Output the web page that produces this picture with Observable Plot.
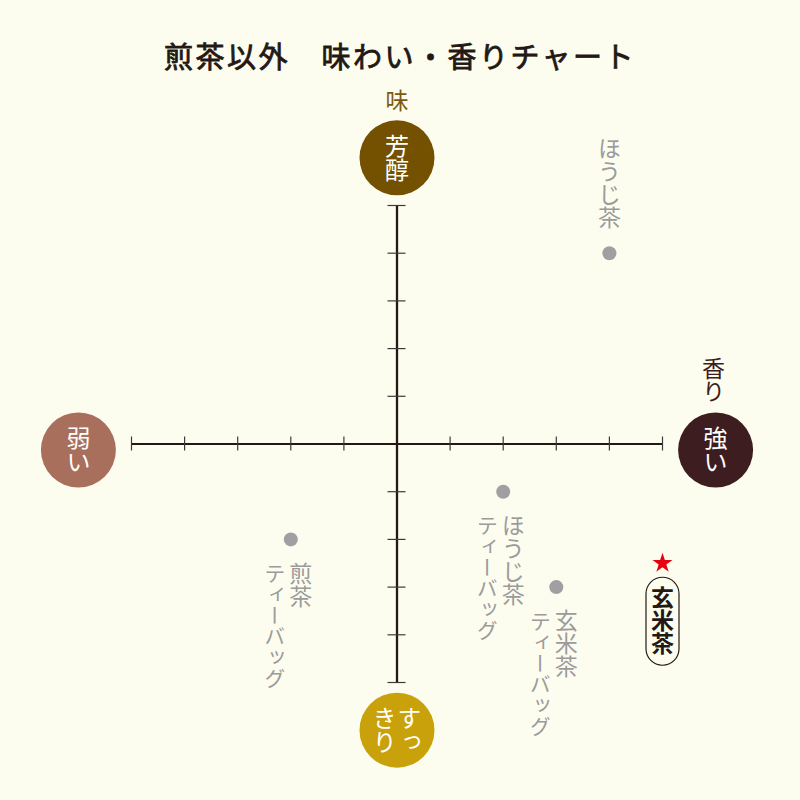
<!DOCTYPE html>
<html>
<head>
<meta charset="utf-8">
<script src="https://cdn.jsdelivr.net/npm/d3@7"></script>
<script src="https://cdn.jsdelivr.net/npm/@observablehq/plot@0.6"></script>
<style>
  html, body { margin: 0; padding: 0; background: #fdfdef; }
  #wrap { width: 800px; height: 800px; background: #fdfdef; overflow: hidden; }
  #title {
    height: 110px; box-sizing: border-box; padding-top: 36px;
    text-align: center; font-family: "Noto Sans CJK JP", sans-serif;
    font-weight: 400; font-size: 29px; line-height: 38px; letter-spacing: 2.5px;
    color: #231815; -webkit-text-stroke: 0.8px #231815;
  }
  #chart svg { display: block; overflow: visible; }
</style>
</head>
<body>
<div id="wrap">
  <div id="title">煎茶以外　味わい・香りチャート</div>
  <div id="chart"></div>
</div>
<script>
// ---- data ----
const teaNames = ["ほうじ茶", "ほうじ茶ティーバッグ", "煎茶ティーバッグ", "玄米茶ティーバッグ"];
const teaAroma = [4, 2, -2, 3];        // 香り (x): 弱い ← → 強い
const teaTaste = [4, -1, -2, -3];      // 味 (y): すっきり ↓ ↑ 芳醇
const teaLabelLines = [["ほうじ茶"], ["ほうじ茶", "ティーバッグ"], ["煎茶", "ティーバッグ"], ["玄米茶", "ティーバッグ"]];

const featuredName = "玄米茶";
const featuredAroma = 5;
const featuredTaste = -2.5;

const tickValues = [-5, -4, -3, -2, -1, 1, 2, 3, 4, 5];

const poleNames = ["芳醇", "すっきり", "弱い", "強い"];
const poleAroma = [0, 0, -6, 6];
const poleTaste = [6, -6, 0, 0];
const poleLines = [["芳醇"], ["すっ", "きり"], ["弱い"], ["強い"]];
const poleColors = ["#745100", "#c9a10a", "#a8705c", "#3e1d20"];

const tasteAxisLabel = "味";
const aromaAxisLabel = "香り";

// ---- tables ----
const teas = teaNames.map((name, i) => ({name, aroma: teaAroma[i], taste: teaTaste[i], lines: teaLabelLines[i]}));
const teasAbove = teas.filter(d => d.lines.length === 1);
const teasBelow = teas.filter(d => d.lines.length === 2);
const featured = [{name: featuredName, aroma: featuredAroma, taste: featuredTaste}];
const poles = poleNames.map((name, i) => ({name, aroma: poleAroma[i], taste: poleTaste[i], lines: poleLines[i], color: poleColors[i]}));
const polesV = poles.filter(d => d.aroma === 0);
const polesH = poles.filter(d => d.taste === 0);
const poleTop = poles.filter(d => d.taste > 0);
const poleRight = poles.filter(d => d.aroma > 0);

const FONT = "Noto Sans CJK JP";
const axisColor = "#231815";
const grayText = "#9b9b9b";

// pill outline symbol
const pill = {
  draw(ctx) {
    const w = 16.5, h = 44, r = 16.5;
    ctx.moveTo(-w, -h + r);
    ctx.arc(0, -h + r, r, Math.PI, 0);
    ctx.lineTo(w, h - r);
    ctx.arc(0, h - r, r, 0, Math.PI);
    ctx.closePath();
  }
};

const chart = Plot.plot({
  width: 800,
  height: 690,
  marginLeft: 131, marginRight: 138, marginTop: 95, marginBottom: 118,
  x: {domain: [-5, 5], axis: null},
  y: {domain: [-5, 5], axis: null},
  color: {type: "identity"},
  style: {background: "transparent", overflow: "visible", fontFamily: FONT},
  marks: [
    // axes
    Plot.ruleY([0], {x1: -5, x2: 5, stroke: axisColor, strokeWidth: 2}),
    Plot.ruleX([0], {y1: -5, y2: 5, stroke: axisColor, strokeWidth: 2.3}),
    Plot.ruleX(tickValues, {x: d => d, y1: 0, y2: 0, insetTop: -7, insetBottom: -7, stroke: "#3a3a3a", strokeWidth: 1.2}),
    Plot.ruleY(tickValues, {y: d => d, x1: 0, x2: 0, insetLeft: -9, insetRight: -9, stroke: "#3a3a3a", strokeWidth: 1.2}),

    // pole circles
    Plot.dot(polesV, {x: "aroma", y: "taste", r: 37.5, fill: "color"}),
    Plot.dot(polesH, {x: "aroma", y: "taste", r: 37.5, fill: "color", dy: 6}),
    Plot.text(poles.filter(d => d.lines.length === 1 && d.aroma === 0), {x: "aroma", y: "taste", text: d => d.lines[0], fill: "white", fontSize: 24, textAnchor: "middle", lineAnchor: "bottom"}),
    Plot.text(poles.filter(d => d.lines.length === 1 && d.taste === 0), {x: "aroma", y: "taste", text: d => d.lines[0], fill: "white", fontSize: 24, textAnchor: "middle", lineAnchor: "bottom", dy: 6}),
    Plot.text(poles.filter(d => d.lines.length === 2), {x: "aroma", y: "taste", text: d => d.lines[0], fill: "white", fontSize: 24, textAnchor: "middle", lineAnchor: "bottom", dx: 12.5}),
    Plot.text(poles.filter(d => d.lines.length === 2), {x: "aroma", y: "taste", text: d => d.lines[1], fill: "white", fontSize: 24, textAnchor: "middle", lineAnchor: "bottom", dx: -12.5}),

    // axis titles
    Plot.text(poleTop, {x: "aroma", y: "taste", text: () => tasteAxisLabel, fill: "#7b5a10", fontSize: 23, textAnchor: "middle", lineAnchor: "bottom", dy: -58}),
    Plot.text(poleRight, {x: "aroma", y: "taste", text: () => aromaAxisLabel, fill: "#3e1d20", fontSize: 23, textAnchor: "end", lineAnchor: "bottom", dy: -41, dx: -2}),

    // tea points
    Plot.dot(teas, {x: "aroma", y: "taste", r: 7, fill: "#a0a0a3"}),
    Plot.text(teasAbove, {x: "aroma", y: "taste", text: d => d.lines[0], fill: grayText, fontSize: 23, textAnchor: "end", lineAnchor: "bottom", dy: -24}),
    Plot.text(teasBelow, {x: "aroma", y: "taste", text: d => d.lines[0], fill: grayText, fontSize: 23, textAnchor: "start", lineAnchor: "bottom", dy: 22, dx: 10}),
    Plot.text(teasBelow, {x: "aroma", y: "taste", text: d => d.lines[1], fill: grayText, fontSize: 21, textAnchor: "start", lineAnchor: "bottom", dy: 23, dx: -16}),

    // featured
    Plot.dot(featured, {x: "aroma", y: "taste", symbol: "star", r: 6.3, fill: "#e60012", stroke: "none"}),
    Plot.dot(featured, {x: "aroma", y: "taste", symbol: pill, r: 10, fill: "none", stroke: axisColor, strokeWidth: 1.2, dy: 58}),
    Plot.text(featured, {x: "aroma", y: "taste", text: "name", fill: axisColor, fontSize: 23, fontWeight: "bold", textAnchor: "middle", lineAnchor: "bottom", dy: 57})
  ]
});

chart.querySelectorAll("text").forEach(t => {
  t.setAttribute("writing-mode", "vertical-rl");
  t.style.writingMode = "vertical-rl";
});

document.getElementById("chart").appendChild(chart);
</script>
</body>
</html>
